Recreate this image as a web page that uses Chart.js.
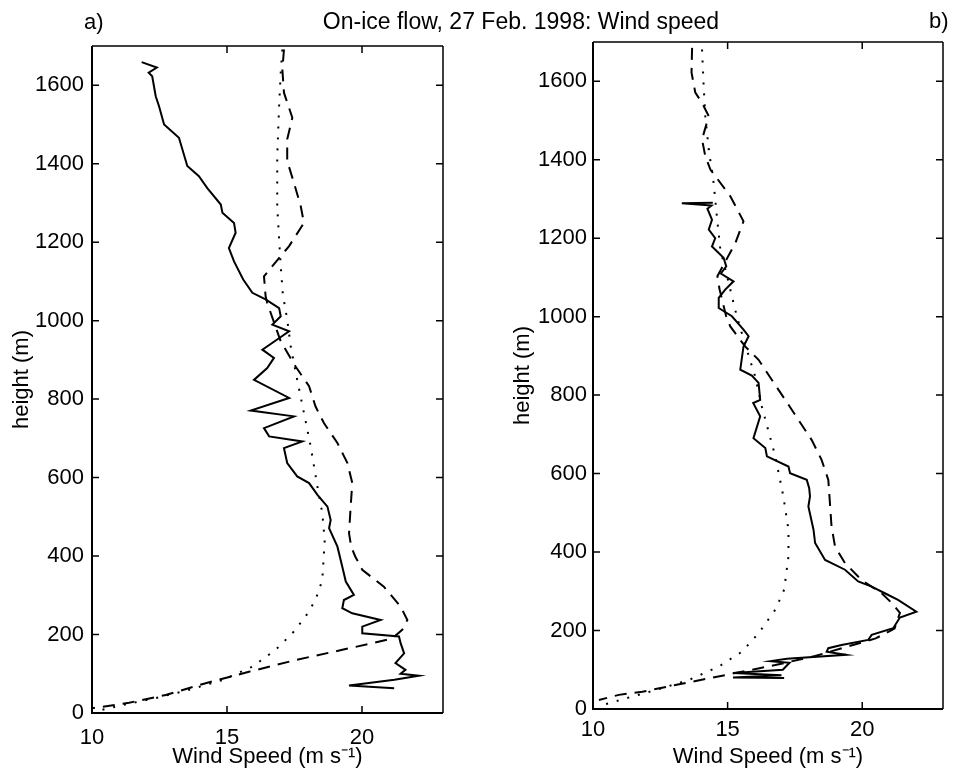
<!DOCTYPE html>
<html>
<head>
<meta charset="utf-8">
<script src="https://cdn.jsdelivr.net/npm/chart.js@4"></script>
<style>
  body { margin: 0; background: #fff; }
  #wrap { position: relative; width: 954px; height: 771px; font-family: "Liberation Sans", Arial, Helvetica, sans-serif; color: #000; }
  canvas { position: absolute; top: 0; }
  #chartA { left: 0; }
  #chartB { left: 477px; }
  .lbl { position: absolute; font-size: 22px; line-height: 26px; white-space: nowrap; }
</style>
</head>
<body>
<div id="wrap">
  <canvas id="chartA" width="477" height="771"></canvas>
  <canvas id="chartB" width="477" height="771"></canvas>
  <div class="lbl" style="left:521px; top:8px; font-size:23px; transform:translateX(-50%);">On-ice flow, 27 Feb. 1998: Wind speed</div>
  <div class="lbl" style="left:84px; top:9px;">a)</div>
  <div class="lbl" style="left:929px; top:8px;">b)</div>
</div>
<script>
// Panel a) - heights (m) and wind speeds (m/s)
const aSolidH = [1659, 1645, 1632, 1623, 1572, 1547, 1500, 1466, 1394, 1368, 1338, 1296, 1275, 1249, 1224, 1185, 1151, 1105, 1071, 1054, 1032, 1011, 990, 973, 926, 905, 879, 849, 803, 771, 756, 726, 705, 692, 675, 637, 603, 586, 556, 526, 492, 471, 424, 373, 335, 301, 288, 267, 254, 237, 220, 203, 195, 178, 152, 127, 110, 100, 95, 85, 70, 63];
const aSolidV = [11.84, 12.4, 12.1, 12.23, 12.36, 12.48, 12.67, 13.22, 13.53, 13.96, 14.27, 14.77, 14.83, 15.26, 15.32, 15.07, 15.26, 15.6, 15.94, 16.43, 16.93, 16.99, 16.68, 17.3, 16.31, 16.74, 16.49, 16.0, 17.3, 15.88, 17.48, 16.37, 16.56, 17.79, 17.11, 17.23, 17.6, 18.04, 18.35, 18.72, 18.84, 18.78, 19.09, 19.27, 19.4, 19.7, 19.33, 19.27, 19.64, 20.69, 20.01, 20.01, 21.37, 21.43, 21.56, 21.24, 21.61, 21.43, 22.1, 21.2, 19.52, 21.19];

const aDashH = [1691, 1640, 1581, 1517, 1462, 1407, 1351, 1292, 1249, 1190, 1139, 1113, 1062, 1045, 947, 883, 833, 781, 739, 688, 637, 586, 526, 458, 424, 399, 365, 322, 271, 237, 212, 190, 178, 161, 135, 105, 76, 46, 26, 12];
const aDashV = [17.11, 17.05, 17.11, 17.42, 17.23, 17.23, 17.48, 17.73, 17.85, 17.3, 16.68, 16.37, 16.43, 16.49, 16.99, 17.54, 18.04, 18.28, 18.59, 19.09, 19.46, 19.64, 19.58, 19.52, 19.6, 19.75, 20.01, 20.81, 21.43, 21.68, 21.49, 21.12, 20.38, 19.27, 17.54, 15.81, 14.21, 12.73, 11.37, 10.0];

const aDotH = [1691, 1632, 1547, 1419, 1292, 1207, 1139, 1066, 1003, 934, 849, 765, 679, 577, 509, 440, 407, 339, 288, 246, 203, 161, 118, 84, 59, 38, 20, 3];
const aDotV = [17.05, 16.99, 16.93, 16.86, 16.86, 16.93, 16.99, 17.07, 17.23, 17.36, 17.6, 17.85, 18.1, 18.35, 18.53, 18.62, 18.59, 18.53, 18.28, 17.91, 17.42, 16.8, 15.94, 14.83, 13.59, 12.36, 11.12, 10.07];

// Panel b)
const bSolidH = [1290, 1289, 1283, 1275, 1247, 1222, 1200, 1179, 1150, 1128, 1110, 1090, 1069, 1048, 1022, 1001, 967, 950, 924, 865, 850, 831, 788, 780, 746, 690, 665, 644, 618, 601, 584, 563, 542, 516, 457, 423, 380, 355, 325, 312, 295, 278, 248, 233, 206, 189, 176, 163, 155, 146, 138, 128, 122, 118, 100, 92, 86, 80, 79];
const bSolidV = [14.45, 13.3, 14.4, 14.25, 14.42, 14.3, 14.54, 14.42, 14.85, 14.95, 14.75, 15.22, 14.91, 14.67, 14.67, 15.16, 15.59, 15.78, 15.59, 15.47, 15.9, 16.15, 16.21, 15.95, 16.21, 15.96, 16.4, 16.46, 17.26, 17.32, 17.94, 18.03, 18.06, 18.0, 18.19, 18.25, 18.62, 19.36, 19.85, 20.35, 20.84, 21.33, 22.01, 21.4, 21.15, 20.35, 20.22, 19.23, 18.74, 18.68, 19.4, 17.2, 16.6, 17.3, 17.05, 15.2, 17.0, 15.2, 17.1];

const bDashH = [1685, 1622, 1571, 1545, 1511, 1452, 1409, 1375, 1307, 1243, 1188, 1103, 1070, 1000, 975, 924, 890, 839, 788, 737, 686, 635, 584, 525, 465, 414, 372, 329, 295, 270, 245, 205, 180, 160, 135, 112, 95, 78, 61, 44, 36, 23];
const bDashV = [13.68, 13.66, 13.8, 14.05, 14.3, 14.05, 14.17, 14.36, 15.1, 15.59, 15.29, 14.62, 14.7, 14.95, 15.1, 15.65, 16.15, 16.64, 17.14, 17.63, 18.12, 18.49, 18.74, 18.8, 18.86, 18.99, 19.36, 19.97, 20.72, 21.1, 21.4, 21.2, 20.5, 19.5, 18.25, 16.77, 15.53, 14.3, 13.06, 11.83, 10.96, 10.22];

const bDotH = [1681, 1588, 1511, 1426, 1341, 1256, 1171, 1086, 1001, 916, 848, 771, 644, 542, 457, 389, 304, 253, 193, 146, 108, 74, 48, 27, 10];
const bDotV = [14.05, 14.11, 14.17, 14.3, 14.48, 14.6, 14.73, 15.04, 15.34, 15.71, 16.02, 16.27, 16.77, 17.07, 17.26, 17.26, 17.1, 16.77, 16.15, 15.53, 14.67, 13.56, 12.32, 11.21, 10.35];

// Axes
const xTicks = [10, 15, 20];
const yTicks = [0, 200, 400, 600, 800, 1000, 1200, 1400, 1600];
const xTitle = "Wind Speed (m s\u207B\u00B9)";
const yTitle = "height (m)";

const FONT = '"Liberation Sans", Arial, Helvetica, sans-serif';
Chart.defaults.color = "#000";
Chart.defaults.font.family = FONT;

function pts(hs, vs) {
  return hs.map((h, i) => ({ x: vs[i], y: h }));
}

// MATLAB style box with inward ticks on all four sides
const frameTicks = {
  id: "frameTicks",
  afterDatasetsDraw(chart) {
    const { ctx, chartArea: a, scales: { x, y } } = chart;
    ctx.save();
    ctx.strokeStyle = "#000";
    ctx.lineWidth = 1.5;
    ctx.beginPath();
    ctx.moveTo(a.left, a.top); ctx.lineTo(a.right, a.top);
    ctx.moveTo(a.right, a.top); ctx.lineTo(a.right, a.bottom);
    ctx.stroke();
    ctx.lineWidth = 2;
    ctx.beginPath();
    ctx.moveTo(a.left, a.top); ctx.lineTo(a.left, a.bottom); ctx.lineTo(a.right, a.bottom);
    ctx.stroke();
    ctx.lineWidth = 1.5;
    ctx.beginPath();
    x.ticks.forEach(t => {
      const px = x.getPixelForValue(t.value);
      ctx.moveTo(px, a.bottom); ctx.lineTo(px, a.bottom - 7);
      ctx.moveTo(px, a.top); ctx.lineTo(px, a.top + 7);
    });
    y.ticks.forEach(t => {
      const py = y.getPixelForValue(t.value);
      ctx.moveTo(a.left, py); ctx.lineTo(a.left + 7, py);
      ctx.moveTo(a.right, py); ctx.lineTo(a.right - 7, py);
    });
    ctx.stroke();
    ctx.restore();
  }
};

function makePanel(id, solid, dash, dot, lay) {
  new Chart(document.getElementById(id), {
    type: "scatter",
    data: {
      datasets: [
        { data: solid, borderColor: "#000", borderWidth: 2 },
        { data: dash, borderColor: "#000", borderWidth: 2, borderDash: [12, 8] },
        { data: dot, borderColor: "#000", borderWidth: 2, borderDash: [2, 9] },
      ].map(d => Object.assign(d, { showLine: true, pointRadius: 0, fill: false, tension: 0 })),
    },
    options: {
      responsive: false,
      animation: false,
      layout: { padding: { left: lay.left, right: lay.right, top: lay.top, bottom: 0 } },
      plugins: { legend: { display: false }, tooltip: { enabled: false } },
      scales: {
        x: {
          type: "linear", min: 10, max: 23,
          grid: { display: false, drawTicks: false },
          border: { display: false },
          afterBuildTicks: s => { s.ticks = xTicks.map(v => ({ value: v })); },
          ticks: { font: { size: 22 }, padding: lay.xPad, maxRotation: 0, callback: v => String(v) },
          title: { display: true, text: xTitle, font: { size: 22 }, padding: { top: 0, bottom: 1 } },
          afterFit: s => { s.height = lay.xH; },
        },
        y: {
          type: "linear", min: 0, max: 1700,
          grid: { display: false, drawTicks: false },
          border: { display: false },
          afterBuildTicks: s => { s.ticks = yTicks.map(v => ({ value: v })); },
          ticks: { font: { size: 22 }, padding: lay.yPad, callback: v => String(v) },
          title: { display: true, text: yTitle, font: { size: 22 }, padding: { top: 9, bottom: 0 } },
          afterFit: s => { s.width = 92; },
        },
      },
    },
    plugins: [frameTicks],
  });
}

document.addEventListener("DOMContentLoaded", function () {
  makePanel("chartA", pts(aSolidH, aSolidV), pts(aDashH, aDashV), pts(aDotH, aDotV),
    { left: 0, right: 34, top: 46, xH: 58, xPad: 12, yPad: 8 });
  makePanel("chartB", pts(bSolidH, bSolidV), pts(bDashH, bDashV), pts(bDotH, bDotV),
    { left: 24, right: 11, top: 42, xH: 62, xPad: 8, yPad: 6 });
});
</script>
</body>
</html>
